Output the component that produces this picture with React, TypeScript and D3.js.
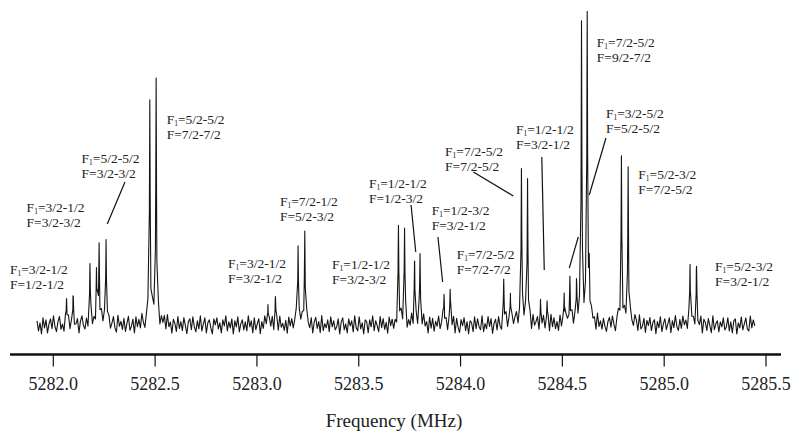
import React from "react";
import * as d3 from "d3";

// ---- data ----
const tickValues = [5282.0, 5282.5, 5283.0, 5283.5, 5284.0, 5284.5, 5285.0, 5285.5];
const freqStart = 5281.92;
const freqEnd = 5285.445;

const peakFreqs = [
  5282.065, 5282.098, 5282.18, 5282.212, 5282.225, 5282.259, 5282.474, 5282.505,
  5283.054, 5283.091, 5283.202, 5283.235, 5283.695, 5283.725, 5283.774, 5283.801,
  5283.919, 5283.949, 5284.212, 5284.245, 5284.299, 5284.329, 5284.393, 5284.425,
  5284.509, 5284.537, 5284.57, 5284.594, 5284.622, 5284.632, 5284.79, 5284.823,
  5285.127, 5285.159,
];
const peakHeights = [
  26, 28, 60, 52, 78, 84, 222, 244,
  20, 28, 78, 93, 98, 95, 62, 70,
  30, 35, 45, 30, 154, 144, 21, 23,
  30, 46, 35, 298, 305, 45, 166, 156,
  60, 58,
];

// baseline noise read (roughly) along the trace, evenly spaced from freqStart to freqEnd
const noise = [
  4, -6, 2, -9, 7, -3, 5, -8, 1, 6, -4, 9, -2, -7, 3, 8, -5, 0, -8, 6,
  -3, 7, -6, 2, 9, -4, -1, 5, -9, 3, 8, -2, -6, 4, -7, 1, 7, -5, 2, -8,
  6, -1, -7, 8, -3, 4, -9, 2, 5, -6, 0, 7, -4, -8, 9, -2, 3, -5, 6, -7,
  1, 8, -6, -2, 5, -9, 7, -3, 4, -5, 9, -1, -8, 2, 6, -4, -7, 8, -2, 3,
  -5, 6, -8, 4, -1, 7, -6, 9, -3, 2, -9, 5, 1, -7, 8, -4, 3, -6, 7, -1,
  -9, 3, 6, -5, 8, -2, -7, 4, -4, 9, -6, 1, 7, -8, 2, 5, -3, -9, 6, 0,
  7, -4, 2, -8, 5, -1, 9, -6, 3, -3, 6, -9, 4, -2, 8, -7, 1, 5, -5, 3,
  -6, 9, -2, 4, -8, 7, -5, 1, 6, -9, 3, -4, 8, -1, -6, 5, -3, 7, -8, 2,
  5, -7, 8, -3, 1, -6, 4, -9, 7, -2, 5, -5, 2, 9, -8, 3, -1, 6, -4, -7,
  8, -1, -5, 6, -9, 2, 7, -4, 3, -8, 9, -6, 1, -3, 5, -7, 8, -2, 4, -5,
  -2, 6, -9, 3, 7, -5, 1, -8, 6, -1, 4, -7, 9, -3, -6, 8, -4, 2, -9, 5,
  3, -8, 5, -2, 9, -6, 4, -1, -7, 8, -3, 6, -5, 2, -9, 7, -2, 4, -6, 1,
  -7, 4, -3, 8, -5, 2, 6, -9, 1, -4, 7, -8, 3, 5, -6, 9, -1, -5, 8, -3,
  2, -9, 7, -4, 6, -7, 3, -2, 8, -5, 1, 9, -6, 4, -8, 2, 5, -3, 7, -9,
  6, -3, -8, 5, -1, 7, -6, 3, -9, 4, 2, -7, 8, -4, 6, -2, -5, 9, -7, 1,
  -4, 8, -2, 6, -9, 1, 5, -6, 7, -3, -8, 4, -1, 9, -5, 3, -7, 6, -2, 5,
  9, -5, 3, -7, 2, -4, 8, -1, -6, 5, -9, 7, -3, 1, 6, -8, 4, -2, 7, -6,
  -1, 5, -8, 9, -3, 6, -5, 2, -7, 8, -4, 3, -9, 6, 1, -2, -6, 8, -5, 4,
  7, -6, 1, -3, 8, -9, 4, 5, -2, -7, 6, -1, 3, -8, 9, -4, 2, -6, 5, -3,
  -8, 2, 6, -4, 7, -2, -9, 3, 8, -6, 1, -5, 7, -3, 4, -9, 6, -1, -4, 8,
  3, -7, 9, -5, -2, 6, -8, 4, -1, 7, -6, 2, 5, -9, 3, -3, 8, -7, 1, 6,
  -5, 1, 7, -8, 4, -3, 9, -2, -6, 5, -4, 8, -1, 3, -7, 6, -9, 2, 4, -6,
  8, -4, -3, 7, -9, 5, 2, -6, 6, -1, -8, 9, -5, 1, 4, -7, 3, -2, 7, -5,
  -2, 7, -6, 3, -8, 4, 6, -9, 2, -3, 8, -5, 1, 7, -4, -6, 9, -3, 5, -1,
];

// annotations: anchor (frequency, intensity) of first-line baseline
const labelFreqs = [5281.787, 5281.869, 5282.139, 5282.557, 5282.858, 5283.113, 5283.369, 5283.55,
  5283.858, 5283.981, 5283.924, 5284.272, 5284.669, 5284.714, 5284.873, 5285.25];
const labelInts = [51, 113, 162, 201, 57, 119, 56, 137, 110, 66, 169, 191, 278, 207, 146, 54];
const labelF1 = ["3/2-1/2", "3/2-1/2", "5/2-5/2", "5/2-5/2", "3/2-1/2", "7/2-1/2", "1/2-1/2", "1/2-1/2",
  "1/2-3/2", "7/2-5/2", "7/2-5/2", "1/2-1/2", "7/2-5/2", "3/2-5/2", "5/2-3/2", "5/2-3/2"];
const labelF = ["1/2-1/2", "3/2-3/2", "3/2-3/2", "7/2-7/2", "3/2-1/2", "5/2-3/2", "3/2-3/2", "1/2-3/2",
  "3/2-1/2", "7/2-7/2", "7/2-5/2", "3/2-1/2", "9/2-7/2", "5/2-5/2", "7/2-5/2", "3/2-1/2"];

// leader lines (frequency, intensity) pairs
const leaderF1 = [5282.352, 5283.757, 5283.889, 5284.063, 5284.399, 5284.578, 5284.714];
const leaderI1 = [143, 120, 88, 153, 168, 88, 187];
const leaderF2 = [5282.265, 5283.78, 5283.912, 5284.259, 5284.411, 5284.534, 5284.632];
const leaderI2 = [101, 73, 43, 129, 55, 57, 130];

// ---- layout ----
const W = 800;
const H = 440;
const x = d3.scaleLinear().domain([5282.0, 5285.5]).range([53.3, 766]);
const y = d3.scaleLinear().domain([0, 316]).range([325, 9]);
const axisY = 354.5;
const FONT = "'Liberation Serif', 'Times New Roman', serif";

const gammaN = 0.002;
const gammaB = 0.012;
function lineshape(f: number) {
  let s = 0;
  for (let i = 0; i < peakFreqs.length; i++) {
    const d = f - peakFreqs[i];
    s += 0.93 * peakHeights[i] * (gammaN * gammaN) / (gammaN * gammaN + d * d);
    s += 0.07 * peakHeights[i] * (gammaB * gammaB) / (gammaB * gammaB + d * d);
  }
  return s;
}

export default function App() {
  const pts: [number, number][] = [];
  const n = noise.length;
  for (let i = 0; i < n; i++) {
    const f = freqStart + ((freqEnd - freqStart) * i) / (n - 1);
    pts.push([f, lineshape(f) + noise[i]]);
  }
  for (let i = 0; i < peakFreqs.length; i++) {
    const f0 = peakFreqs[i];
    pts.push([f0 - gammaN, lineshape(f0 - gammaN)]);
    pts.push([f0, lineshape(f0)]);
    pts.push([f0 + gammaN, lineshape(f0 + gammaN)]);
  }
  pts.sort((a, b) => a[0] - b[0]);
  const line = d3
    .line<[number, number]>()
    .x((d) => x(d[0]))
    .y((d) => y(d[1]));
  const fmt = d3.format(".1f");

  return (
    <svg
      width={W}
      height={H}
      style={{ position: "absolute", left: 0, top: 0, background: "#fff" }}
      fontFamily={FONT}
    >
      <path d={line(pts) || ""} fill="none" stroke="#151515" strokeWidth={1.1} strokeLinejoin="round" />
      {leaderF1.map((f, i) => (
        <line
          key={"l" + i}
          x1={x(f)}
          y1={y(leaderI1[i])}
          x2={x(leaderF2[i])}
          y2={y(leaderI2[i])}
          stroke="#111"
          strokeWidth={1.2}
        />
      ))}
      {labelFreqs.map((f, i) => (
        <g key={"t" + i} fontSize={13.5} fill="#222">
          <text x={x(f)} y={y(labelInts[i])}>
            F<tspan fontSize={7.5} dy={2}>1</tspan>
            <tspan dy={-2}>={labelF1[i]}</tspan>
          </text>
          <text x={x(f)} y={y(labelInts[i]) + 15}>F={labelF[i]}</text>
        </g>
      ))}
      <line x1={10} x2={781} y1={axisY} y2={axisY} stroke="#111" strokeWidth={2.6} />
      {tickValues.map((t) => (
        <g key={t}>
          <line x1={x(t)} x2={x(t)} y1={axisY} y2={axisY + 12} stroke="#111" strokeWidth={1.2} />
          <text x={x(t)} y={390} textAnchor="middle" fontSize={18} fill="#222">
            {fmt(t)}
          </text>
        </g>
      ))}
      <text x={394} y={427} textAnchor="middle" fontSize={19} fill="#222">
        Frequency (MHz)
      </text>
    </svg>
  );
}
